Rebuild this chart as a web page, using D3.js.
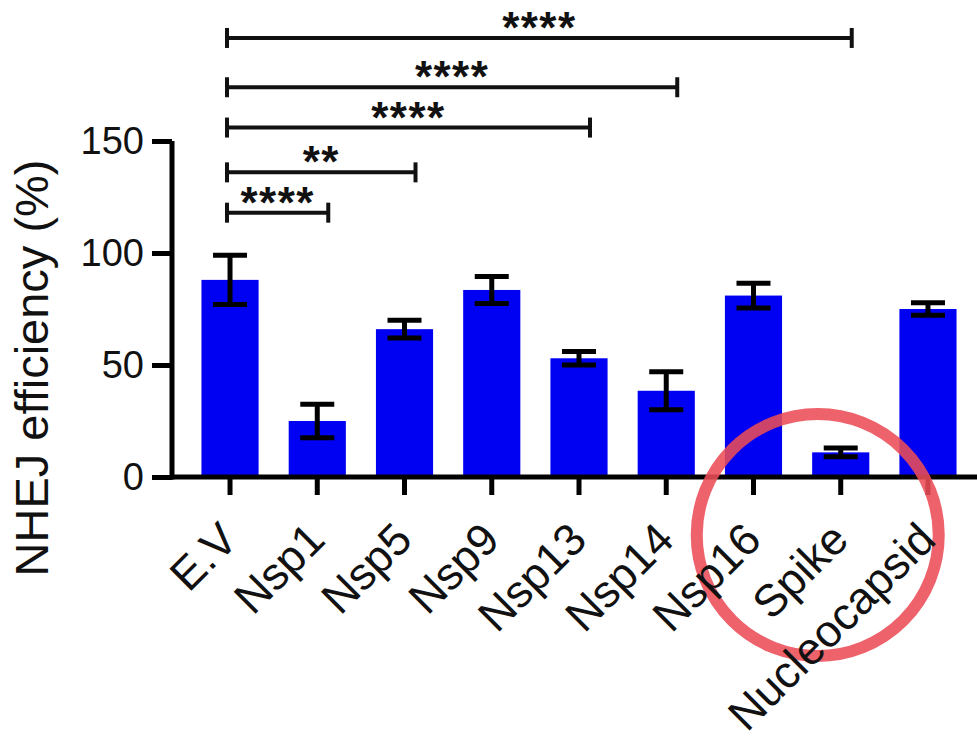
<!DOCTYPE html>
<html>
<head>
<meta charset="utf-8">
<script src="https://cdn.jsdelivr.net/npm/d3@7"></script>
<style>
  body { margin: 0; background: #fff; }
  svg { display: block; }
</style>
</head>
<body>
<div id="chart"></div>
<script>
const categories = ["E.V", "Nsp1", "Nsp5", "Nsp9", "Nsp13", "Nsp14", "Nsp16", "Spike", "Nucleocapsid"];
const means = [88, 25, 66, 83.5, 53, 38.5, 81, 11, 75];
const errors = [11, 7.5, 4, 6, 3, 8.5, 5.5, 2, 2.8];
const yTicks = [0, 50, 100, 150];

// significance brackets vs E.V
const compareTo = ["Nsp1", "Nsp5", "Nsp13", "Nsp14", "Spike"];
const compareLevel = [118, 136, 156, 174, 196];
const compareStars = ["****", "**", "****", "****", "****"];

const W = 977, H = 748;
const font = "'Liberation Sans', Arial, Helvetica, sans-serif";

const svg = d3.select("#chart")
  .append("svg")
  .attr("width", W)
  .attr("height", H)
  .style("font-family", font);

const x = d3.scaleBand()
  .domain(categories)
  .range([186.4, 971.6])
  .paddingInner(0.345)
  .paddingOuter(0.1725);

const y = d3.scaleLinear().domain([0, 150]).range([477, 141]);

const xc = (c) => x(c) + x.bandwidth() / 2;

// bars
svg.append("g")
  .selectAll("rect")
  .data(categories)
  .join("rect")
  .attr("x", (d) => x(d))
  .attr("width", x.bandwidth())
  .attr("y", (d, i) => y(means[i]))
  .attr("height", (d, i) => y(0) - y(means[i]))
  .attr("fill", "#0000f2");

// error bars
const eb = svg.append("g").attr("stroke", "#000").attr("stroke-width", 5);
categories.forEach((c, i) => {
  const cx = xc(c);
  const top = y(means[i] + errors[i]);
  const bot = y(means[i] - errors[i]);
  eb.append("line").attr("x1", cx).attr("x2", cx).attr("y1", top).attr("y2", bot);
  eb.append("line").attr("x1", cx - 17).attr("x2", cx + 17).attr("y1", top).attr("y2", top);
  eb.append("line").attr("x1", cx - 17).attr("x2", cx + 17).attr("y1", bot).attr("y2", bot);
});

// y axis
const yAxis = svg.append("g")
  .attr("transform", "translate(172,0)")
  .call(d3.axisLeft(y).tickValues(yTicks).tickSize(20).tickSizeOuter(0).tickPadding(8));
yAxis.select(".domain").attr("stroke-width", 5).attr("d", `M0,${y(150)}V${y(0) + 2.5}`);
yAxis.selectAll(".tick line").attr("stroke-width", 5);
yAxis.selectAll(".tick text")
  .attr("font-size", 38)
  .attr("font-family", font)
  .attr("fill", "#111");

// x axis
const xAxis = svg.append("g")
  .attr("transform", `translate(0,${y(0)})`)
  .call(d3.axisBottom(x).tickSize(18).tickSizeOuter(0));
xAxis.select(".domain").remove();
xAxis.append("line")
  .attr("x1", 170).attr("x2", W)
  .attr("stroke", "#000").attr("stroke-width", 5);
xAxis.selectAll(".tick line").attr("stroke-width", 5);
xAxis.selectAll(".tick text").remove();

// red annotation circle around Spike / Nucleocapsid
svg.append("circle")
  .attr("cx", xc("Spike") - 23)
  .attr("cy", y(0) + 58)
  .attr("r", 121)
  .attr("fill", "none")
  .attr("stroke", "#ea4c56")
  .attr("stroke-opacity", 0.88)
  .attr("stroke-width", 12);

// x labels
svg.append("g")
  .selectAll("text")
  .data(categories)
  .join("text")
  .attr("transform", (d) => `translate(${xc(d) + 10},542) rotate(-45)`)
  .attr("text-anchor", "end")
  .attr("font-size", 45)
  .attr("fill", "#111")
  .text((d) => d);

// y title
svg.append("text")
  .attr("transform", `translate(48,368) rotate(-90)`)
  .attr("text-anchor", "middle")
  .attr("font-size", 47)
  .attr("fill", "#111")
  .text("NHEJ efficiency (%)");

// significance brackets
const br = svg.append("g");
compareTo.forEach((c, i) => {
  const x1 = xc("E.V") - 3;
  const x2 = xc(c) + 11;
  const yy = y(compareLevel[i]);
  const g = br.append("g").attr("stroke", "#111").attr("stroke-width", 4);
  g.append("line").attr("x1", x1).attr("x2", x2).attr("y1", yy).attr("y2", yy);
  g.append("line").attr("x1", x1).attr("x2", x1).attr("y1", yy - 10).attr("y2", yy + 10);
  g.append("line").attr("x1", x2).attr("x2", x2).attr("y1", yy - 10).attr("y2", yy + 10);
  br.append("text")
    .attr("x", (x1 + x2) / 2)
    .attr("y", yy + 5)
    .attr("text-anchor", "middle")
    .attr("font-size", 44)
    .attr("font-weight", "bold")
    .attr("letter-spacing", 1.5)
    .attr("fill", "#111")
    .text(compareStars[i]);
});
</script>
</body>
</html>
